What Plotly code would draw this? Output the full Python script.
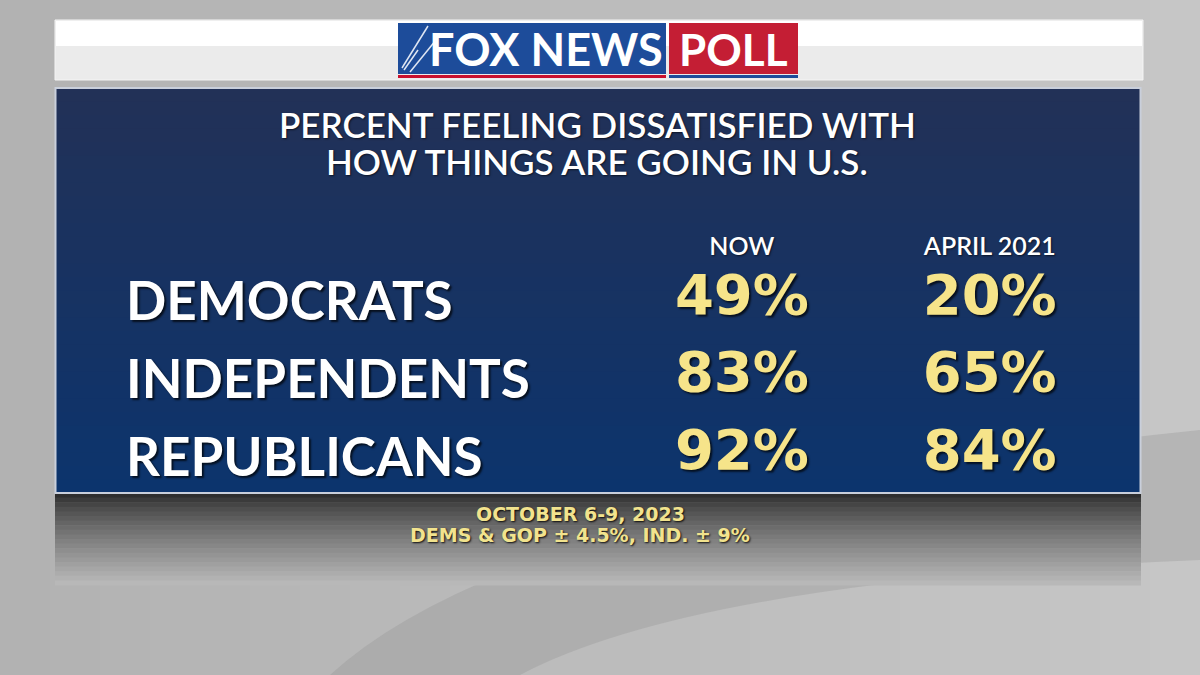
import plotly.graph_objects as go

# ---- data ----
groups = ["DEMOCRATS", "INDEPENDENTS", "REPUBLICANS"]
periods = ["NOW", "APRIL 2021"]
now_vals = [49, 83, 92]
april_vals = [20, 65, 84]
title_lines = ["PERCENT FEELING DISSATISFIED WITH", "HOW THINGS ARE GOING IN U.S."]
footer_lines = ["OCTOBER 6-9, 2023", "DEMS &amp; GOP ± 4.5%, IND. ± 9%"]

W, H = 1200, 675
YELLOW = "#f6e48a"
FONT = "Lato"
WIDE = "DejaVu Sans"


def px(x):
    return x / W


def py(y):
    return 1 - y / H


def lerp(c1, c2, t):
    a = [int(c1[i:i + 2], 16) for i in (1, 3, 5)]
    b = [int(c2[i:i + 2], 16) for i in (1, 3, 5)]
    return "#" + "".join(f"{round(a[k] + (b[k] - a[k]) * t):02x}" for k in range(3))


fig = go.Figure()

# value traces
for name, vals in zip(periods, [now_vals, april_vals]):
    fig.add_trace(go.Scatter(
        x=[name] * len(groups), y=groups, mode="text",
        text=[f"{v}%" for v in vals],
        textposition="middle center",
        textfont=dict(family=WIDE, size=56, color=YELLOW, weight="bold",
                      shadow="2px 2px 2px rgba(0,0,0,0.7)"),
        hoverinfo="skip", showlegend=False, cliponaxis=False,
    ))

shapes = []
# background gradient (left to right)
nb = 24
for i in range(nb):
    shapes.append(dict(type="rect", xref="paper", yref="paper", layer="below",
                       x0=i / nb, x1=(i + 1) / nb + 0.002, y0=0, y1=1,
                       line=dict(width=0),
                       fillcolor=lerp("#b2b2b2", "#c6c6c6", i / (nb - 1))))
# swoosh at bottom
shapes.append(dict(type="path", xref="paper", yref="paper", layer="below",
                   path=f"M {px(330)},{py(675)} Q {px(520)},{py(500)} {px(1200)},{py(430)} L {px(1200)},{py(560)} Q {px(700)},{py(580)} {px(520)},{py(675)} Z",
                   fillcolor="rgba(150,150,150,0.35)", line=dict(width=0)))
# header band
shapes.append(dict(type="rect", xref="paper", yref="paper", layer="below",
                   x0=px(55), x1=px(1143), y0=py(80), y1=py(20),
                   fillcolor="#ebebeb", line=dict(width=1, color="#f4f4f4")))
shapes.append(dict(type="rect", xref="paper", yref="paper", layer="below",
                   x0=px(56), x1=px(1142), y0=py(46), y1=py(21),
                   fillcolor="#ffffff", line=dict(width=0)))
# shadow below panel
nd = 20
for i in range(nd):
    y0 = 493 + i * 92 / nd
    shapes.append(dict(type="rect", xref="paper", yref="paper", layer="below",
                       x0=px(55), x1=px(1141), y0=py(y0 + 92 / nd + 0.5), y1=py(y0),
                       line=dict(width=0),
                       fillcolor=lerp("#2e2e2e", "#b8b8b8", (i / (nd - 1)) ** 0.8)))
# panel gradient
npn = 30
for i in range(npn):
    y0 = 88 + i * 405 / npn
    shapes.append(dict(type="rect", xref="paper", yref="paper", layer="below",
                       x0=px(56), x1=px(1140), y0=py(y0 + 405 / npn + 0.5), y1=py(y0),
                       line=dict(width=0),
                       fillcolor=lerp("#223157", "#0c346d", i / (npn - 1))))
shapes.append(dict(type="rect", xref="paper", yref="paper", layer="below",
                   x0=px(55.5), x1=px(1140.5), y0=py(493), y1=py(88),
                   fillcolor="rgba(0,0,0,0)", line=dict(width=2, color="#c9cfdb")))
# logo boxes
shapes += [
    dict(type="rect", xref="paper", yref="paper", x0=px(398), x1=px(666), y0=py(74), y1=py(23),
         fillcolor="#1d4c9a", line=dict(width=0)),
    dict(type="rect", xref="paper", yref="paper", x0=px(398), x1=px(666), y0=py(78), y1=py(75),
         fillcolor="#c8102e", line=dict(width=0)),
    dict(type="rect", xref="paper", yref="paper", x0=px(669), x1=px(798), y0=py(74), y1=py(23),
         fillcolor="#c41e34", line=dict(width=0)),
    dict(type="rect", xref="paper", yref="paper", x0=px(669), x1=px(798), y0=py(78), y1=py(75),
         fillcolor="#1d4c9a", line=dict(width=0)),
]
for (x0, y0, x1, y1) in [(402, 68, 428, 26), (404, 70, 418, 50), (410, 72, 436, 40)]:
    shapes.append(dict(type="line", xref="paper", yref="paper", x0=px(x0), y0=py(y0),
                       x1=px(x1), y1=py(y1), line=dict(color="#dfe6f3", width=1.5)))

annotations = []
annotations.append(dict(text="<b>FOX NEWS</b>", x=px(546), y=py(49), xref="paper", yref="paper",
                        showarrow=False, xanchor="center", yanchor="middle",
                        font=dict(family=FONT, size=45, color="white", weight=900)))
annotations.append(dict(text="POLL", x=px(733), y=py(49), xref="paper", yref="paper",
                        showarrow=False, xanchor="center", yanchor="middle",
                        font=dict(family=FONT, size=44, color="white", weight="bold")))
for i, line in enumerate(title_lines):
    annotations.append(dict(text=line, x=px(597), y=py(124 + i * 37), xref="paper", yref="paper",
                            showarrow=False, xanchor="center", yanchor="middle",
                            font=dict(family=FONT, size=35, color="white", weight=600,
                                      shadow="1px 1px 2px rgba(0,0,0,0.6)")))
for g in groups:
    annotations.append(dict(text=g, x=px(124), y=g, xref="paper", yref="y",
                            showarrow=False, xanchor="left", yanchor="middle",
                            font=dict(family=FONT, size=53, color="white", weight="bold",
                                      shadow="2px 2px 2px rgba(0,0,0,0.7)")))
for i, line in enumerate(footer_lines):
    annotations.append(dict(text=line, x=px(580), y=py(514 + i * 21), xref="paper", yref="paper",
                            showarrow=False, xanchor="center", yanchor="middle",
                            font=dict(family=WIDE, size=19, color="#f2e38e", weight="bold",
                                      shadow="1px 1px 2px rgba(0,0,0,0.9)")))

fig.update_layout(
    width=W, height=H,
    margin=dict(l=0, r=0, t=0, b=0),
    paper_bgcolor="#bcbcbc", plot_bgcolor="rgba(0,0,0,0)",
    shapes=shapes, annotations=annotations,
    xaxis=dict(type="category", categoryorder="array", categoryarray=periods,
               range=[-0.5, 1.5], domain=[0.515, 0.928], side="top",
               showgrid=False, zeroline=False, showline=False, ticks="",
               tickfont=dict(family=FONT, size=25, color="white", weight=600,
                             shadow="1px 1px 2px rgba(0,0,0,0.6)"),
               fixedrange=True),
    yaxis=dict(type="category", categoryorder="array", categoryarray=groups[::-1],
               range=[-0.5, 2.5], domain=[0.2685, 0.6130],
               showgrid=False, zeroline=False, showline=False, showticklabels=False,
               ticks="", fixedrange=True),
)

fig.write_html("out.html", config={"displayModeBar": False},
               post_script="document.body.style.margin='0';document.body.style.overflow='hidden';")
